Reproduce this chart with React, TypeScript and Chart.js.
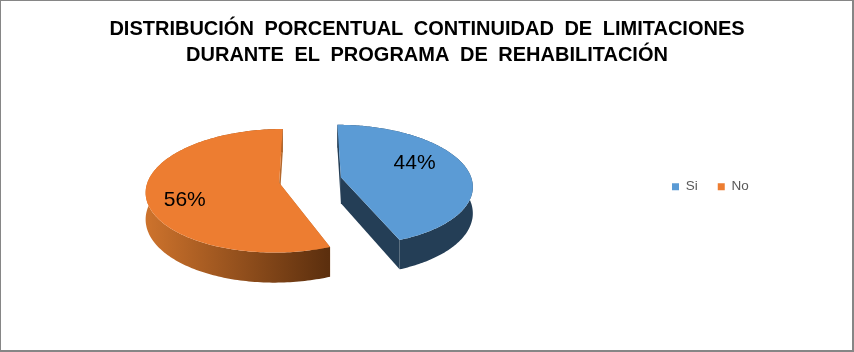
import React, { useEffect, useRef } from "react";
import { Chart, registerables } from "chart.js";

Chart.register(...registerables);

const titleLines = [
  "DISTRIBUCIÓN PORCENTUAL CONTINUIDAD DE LIMITACIONES",
  "DURANTE EL PROGRAMA DE REHABILITACIÓN",
];
const categories = ["Si", "No"];
const percentages = [44, 56];
const topColors = ["#5b9bd5", "#ed7d31"];

// 3D view of the pie plane
const VIEW = { cx: 310.2, cy: 180, ax: 131, ay: 60, persp: 0.13, depth: 26, explode: 0.24 };
const LABEL_RADIUS = [0.64, 0.735];
const LABEL_SHIFT = [-0.206, -0.192];
const FONT = "'Liberation Sans', Arial, sans-serif";

const project = (X: number, Y: number) => {
  const w = 1 - VIEW.persp * Y;
  return { x: VIEW.cx + (VIEW.ax * X) / w, y: VIEW.cy + (VIEW.ay * Y) / w, d: VIEW.depth / w };
};

const pie3d = {
  id: "pie3d",
  beforeDraw(chart: any) {
    const { ctx, width, height } = chart;
    ctx.save();
    ctx.fillStyle = "#ffffff";
    ctx.fillRect(0, 0, width, height);
    ctx.fillStyle = "#868686";
    ctx.fillRect(0, 0, width, 1);
    ctx.fillRect(0, 0, 1, height);
    ctx.fillRect(width - 2, 0, 2, height);
    ctx.fillRect(0, height - 2, width, 2);
    ctx.restore();
    ctx.wordSpacing = "5px";
  },
  afterLayout(chart: any) {
    const l = chart.legend;
    const w = l.right - l.left;
    const h = l.bottom - l.top;
    l.left = 652;
    l.right = 652 + w;
    l.top = 160;
    l.bottom = 160 + h;
  },
  beforeDatasetsDraw(chart: any) {
    const { ctx } = chart;
    ctx.wordSpacing = "0px";
    const arcs = chart.getDatasetMeta(0).data;
    arcs.forEach((arc: any, i: number) => {
      const start = arc.startAngle;
      const end = arc.endAngle;
      const mid = (start + end) / 2;
      const ex = VIEW.explode * Math.cos(mid);
      const ey = VIEW.explode * Math.sin(mid);
      const at = (t: number, r: number) => project(ex + r * Math.cos(t), ey + r * Math.sin(t));
      const rim: any[] = [];
      for (let k = 0; k <= 180; k++) rim.push(at(start + ((end - start) * k) / 180, 1));
      const apex = at(0, 0);

      let wall: any = "#243e56";
      let face = "#243e56";
      if (i === 1) {
        wall = ctx.createLinearGradient(148, 0, 328, 0);
        wall.addColorStop(0, "#cc722c");
        wall.addColorStop(1, "#5c2f0e");
        face = "#b4682c";
      }
      const quad = (p: any, q: any) => {
        ctx.beginPath();
        ctx.moveTo(p.x, p.y);
        ctx.lineTo(q.x, q.y);
        ctx.lineTo(q.x, q.y + q.d);
        ctx.lineTo(p.x, p.y + p.d);
        ctx.closePath();
        ctx.fillStyle = face;
        ctx.fill();
      };
      quad(apex, rim[0]);

      ctx.beginPath();
      rim.forEach((p, k) => (k ? ctx.lineTo(p.x, p.y) : ctx.moveTo(p.x, p.y)));
      for (let k = rim.length - 1; k >= 0; k--) ctx.lineTo(rim[k].x, rim[k].y + rim[k].d);
      ctx.closePath();
      ctx.fillStyle = wall;
      ctx.fill();

      quad(apex, rim[rim.length - 1]);

      ctx.beginPath();
      ctx.moveTo(apex.x, apex.y);
      rim.forEach((p) => ctx.lineTo(p.x, p.y));
      ctx.closePath();
      ctx.fillStyle = topColors[i];
      ctx.fill();
    });
    arcs.forEach((arc: any, i: number) => {
      const mid = (arc.startAngle + arc.endAngle) / 2;
      const t = mid + LABEL_SHIFT[i];
      const p = project(
        VIEW.explode * Math.cos(mid) + LABEL_RADIUS[i] * Math.cos(t),
        VIEW.explode * Math.sin(mid) + LABEL_RADIUS[i] * Math.sin(t)
      );
      ctx.save();
      ctx.fillStyle = "#000000";
      ctx.font = `21px ${FONT}`;
      ctx.textAlign = "center";
      ctx.textBaseline = "middle";
      ctx.fillText(`${percentages[i]}%`, p.x, p.y);
      ctx.restore();
    });
    return false;
  },
};

export default function App() {
  const ref = useRef<HTMLCanvasElement>(null);
  useEffect(() => {
    document.body.style.margin = "0";
    const chart = new Chart(ref.current!, {
      type: "pie",
      data: {
        labels: categories,
        datasets: [{ data: percentages, backgroundColor: topColors, borderWidth: 0 }],
      },
      options: {
        animation: false,
        responsive: false,
        layout: { padding: 0 },
        plugins: {
          title: {
            display: true,
            text: titleLines,
            color: "#000000",
            font: { family: FONT, size: 20, weight: "bold", lineHeight: 1.3 },
            padding: { top: 16, bottom: 0 },
          },
          legend: {
            display: true,
            position: "bottom",
            align: "start",
            labels: {
              boxWidth: 7,
              boxHeight: 7,
              padding: 20,
              color: "#595959",
              font: { family: FONT, size: 13.5 },
            },
          },
          tooltip: { enabled: false },
        },
      },
      plugins: [pie3d],
    } as any);
    return () => chart.destroy();
  }, []);
  return <canvas ref={ref} width={854} height={352} style={{ display: "block" }} />;
}
